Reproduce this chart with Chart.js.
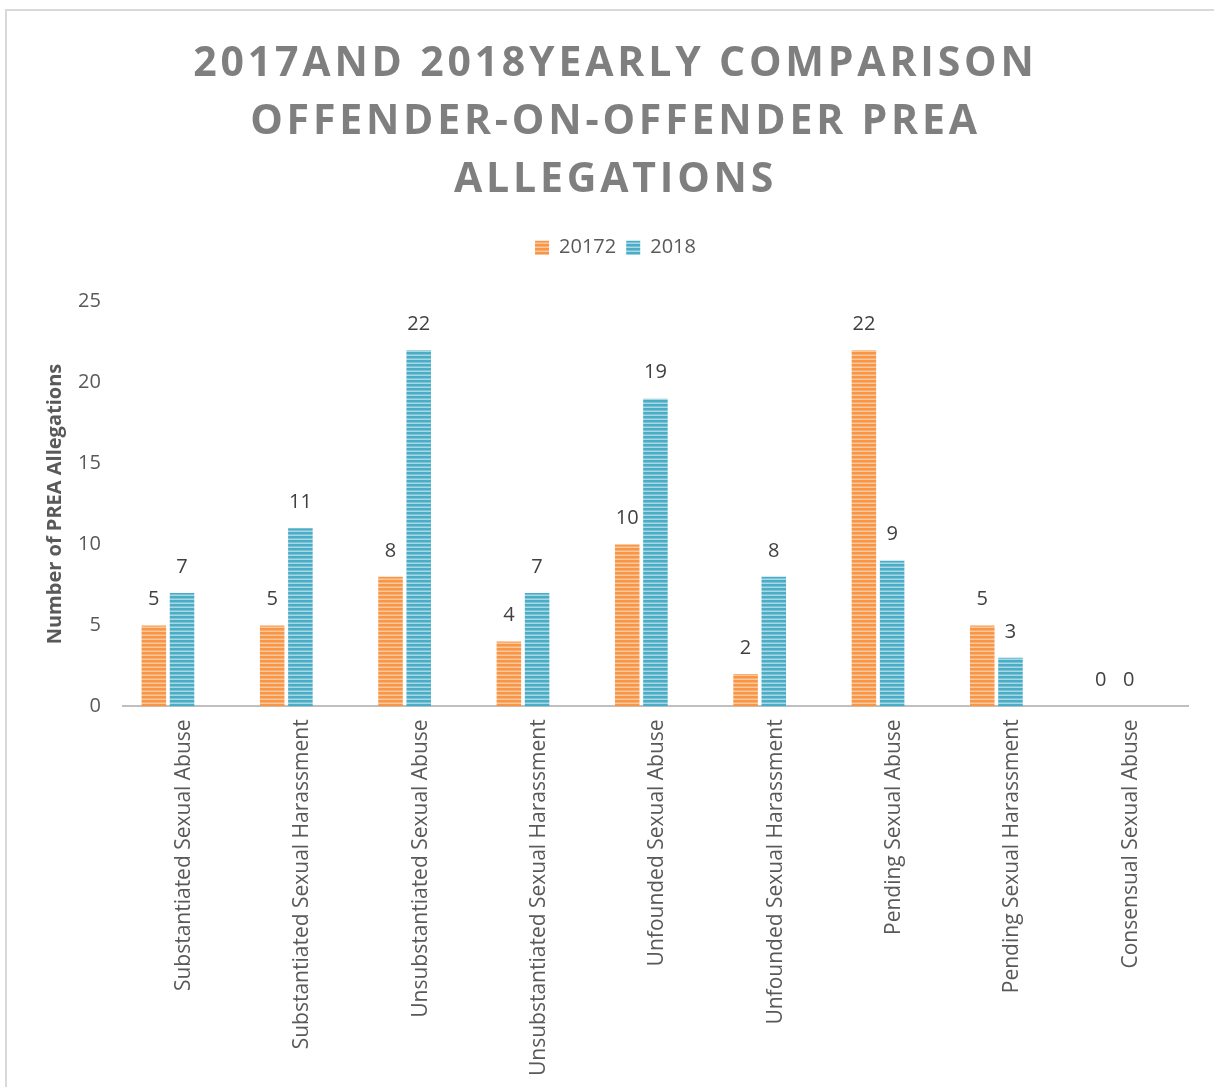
<!DOCTYPE html>
<html>
<head>
<meta charset="utf-8">
<script src="https://cdn.jsdelivr.net/npm/chart.js@4/dist/chart.umd.min.js"></script>
<style>
html,body{margin:0;padding:0;background:#fff;}
#wrap{position:absolute;left:0;top:0;width:1214px;height:1087px;}
#frame{position:absolute;left:5px;top:9px;width:1230px;height:1100px;border:2px solid #d9d9d9;box-sizing:border-box;}
canvas{position:absolute;left:0;top:0;}
</style>
</head>
<body>
<div id="wrap"><div id="frame"></div><canvas id="c" width="1214" height="1087"></canvas></div>
<script>
const categories = ["Substantiated Sexual Abuse","Substantiated Sexual Harassment","Unsubstantiated Sexual Abuse","Unsubstantiated Sexual Harassment","Unfounded Sexual Abuse","Unfounded Sexual Harassment","Pending Sexual Abuse","Pending Sexual Harassment","Consensual Sexual Abuse"];
const series2017 = [5,5,8,4,10,2,22,5,0];
const series2018 = [7,11,22,7,19,8,9,3,0];
const seriesEmpty = [null,null,null,null,null,null,null,null,null];
const seriesNames = ["20172","2018",""];
const titleLines = ["2017AND 2018YEARLY COMPARISON","OFFENDER-ON-OFFENDER PREA","ALLEGATIONS"];
const yTitle = "Number of PREA Allegations";

function stripe(base, light){
  const c = document.createElement('canvas');
  c.width = 4; c.height = 4;
  const x = c.getContext('2d');
  x.fillStyle = base; x.fillRect(0,0,4,4);
  x.fillStyle = light; x.fillRect(0,2.5,4,1.5);
  return x.createPattern(c,'repeat');
}
const ctx = document.getElementById('c').getContext('2d');
const orangeP = stripe('#F79646','#FBC79B');
const blueP = stripe('#4BACC6','#A9D8E5');

const FONT = "'Open Sans', sans-serif";

const labelPlugin = {
  id:'vlabels',
  afterDatasetsDraw(chart){
    const c = chart.ctx;
    c.save();
    c.font = "20px " + FONT;
    c.fillStyle = '#404040';
    c.textAlign = 'center';
    c.textBaseline = 'bottom';
    chart.data.datasets.forEach((ds,i)=>{
      if (!ds.label) return;
      const meta = chart.getDatasetMeta(i);
      meta.data.forEach((el,j)=>{
        if (ds.data[j] === null) return;
        c.fillText(String(ds.data[j]), el.x, el.y - 16);
      });
    });
    c.restore();
  }
};
const spacingPlugin = {
  id:'titleSpacing',
  beforeLayout(chart){
    const lg = chart.legend;
    if (lg && !lg._patched){
      const of = lg.fit;
      lg.fit = function(){ of.apply(this, arguments); this.height += 34; };
      lg._patched = true;
    }
  },
  beforeDraw(chart){
    const tb = chart.titleBlock;
    if (tb && !tb._patched){
      const orig = tb.draw;
      tb.draw = function(){
        const c = chart.ctx;
        c.save();
        c.letterSpacing = '3.8px';
        orig.apply(this, arguments);
        c.restore();
      };
      tb._patched = true;
    }
  }
};

new Chart(ctx,{
  type:'bar',
  data:{
    labels:categories,
    datasets:[
      {label:seriesNames[0],data:series2017,backgroundColor:orangeP,borderWidth:0},
      {label:seriesNames[1],data:series2018,backgroundColor:blueP,borderWidth:0},
      {label:seriesNames[2],data:seriesEmpty,backgroundColor:'rgba(0,0,0,0)',borderWidth:0}
    ]
  },
  options:{
    responsive:false,
    animation:false,
    devicePixelRatio:1,
    categoryPercentage:0.715,
    barPercentage:0.87,
    layout:{padding:{left:43,right:26,top:35,bottom:-2}},
    plugins:{
      title:{display:true,text:titleLines,color:'#7f7f7f',font:{family:FONT,size:41,weight:'bold',lineHeight:1.42},padding:{top:0,bottom:18}},
      legend:{display:true,position:'top',labels:{color:'#595959',font:{family:FONT,size:20},boxWidth:14,boxHeight:14,padding:10,filter:(item)=>item.text!==''}},
      tooltip:{enabled:false}
    },
    scales:{
      x:{
        grid:{display:false,drawTicks:false},
        border:{display:true,color:'#bfbfbf',width:2},
        ticks:{color:'#595959',font:{family:FONT,size:21},minRotation:90,maxRotation:90,autoSkip:false,padding:13,labelOffset:2}
      },
      y:{
        min:0,max:25,
        grid:{display:false,drawTicks:false},
        border:{display:false},
        ticks:{stepSize:5,color:'#595959',font:{family:FONT,size:20},padding:22},
        title:{display:true,text:yTitle,color:'#595959',font:{family:FONT,size:20,weight:'bold'},padding:{top:0,bottom:-11}}
      }
    }
  },
  plugins:[labelPlugin,spacingPlugin]
});
</script>
</body>
</html>
